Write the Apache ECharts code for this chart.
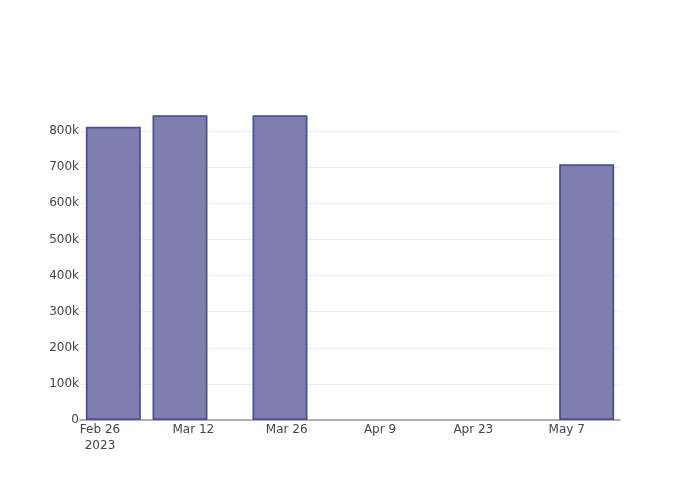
<!DOCTYPE html>
<html>
<head>
<meta charset="utf-8">
<script src="https://cdn.jsdelivr.net/npm/echarts@6/dist/echarts.min.js"></script>
<style>html,body{margin:0;padding:0;background:#fff}#c{width:700px;height:500px}</style>
</head>
<body>
<div id="c"></div>
<script>
const dates = ['2023-02-28', '2023-03-10', '2023-03-25', '2023-05-10'];
const values = [812000, 844000, 844000, 708000];
const tickDates = ['2023-02-26', '2023-03-12', '2023-03-26', '2023-04-09', '2023-04-23', '2023-05-07'];
const tickLabels = ['Feb 26\n2023', 'Mar 12', 'Mar 26', 'Apr 9', 'Apr 23', 'May 7'];
const xMin = '2023-02-23';
const xMax = '2023-05-15';
const yMax = 886000;
const yStep = 100000;

const toTs = s => { const p = s.split('-').map(Number); return Date.UTC(p[0], p[1]-1, p[2]); };
const tickTs = tickDates.map(toTs);

const chart = echarts.init(document.getElementById('c'), null, {renderer: 'canvas'});
chart.setOption({
  animation: false,
  backgroundColor: '#fff',
  grid: {left: 80, right: 80, top: 100, bottom: 80, containLabel: false},
  xAxis: {
    type: 'value',
    min: toTs(xMin),
    max: toTs(xMax),
    axisLine: {show: true, onZero: false, lineStyle: {color: '#999', width: 1.5}},
    axisTick: {show: false},
    splitLine: {show: false},
    axisLabel: {
      customValues: tickTs,
      margin: 2,
      color: '#444',
      fontFamily: 'DejaVu Sans',
      fontSize: 12,
      lineHeight: 16,
      align: 'center',
      formatter: function (v) {
        const i = tickTs.indexOf(v);
        return i >= 0 ? tickLabels[i] : '';
      }
    }
  },
  yAxis: {
    type: 'value',
    min: 0,
    max: yMax,
    interval: yStep,
    axisLine: {show: false},
    axisTick: {show: false},
    splitLine: {show: true, showMaxLine: false, lineStyle: {color: '#eeeeee', width: 1}},
    axisLabel: {
      showMaxLabel: false,
      margin: 1,
      color: '#444',
      fontFamily: 'DejaVu Sans',
      fontSize: 12,
      formatter: v => v === 0 ? '0' : (v / 1000) + 'k'
    }
  },
  series: [{
    type: 'bar',
    barWidth: 55,
    data: dates.map((d, i) => [toTs(d), values[i]]),
    itemStyle: {color: '#7f7faf', borderColor: '#4e4e96', borderWidth: 1.8}
  }]
});
</script>
</body>
</html>
